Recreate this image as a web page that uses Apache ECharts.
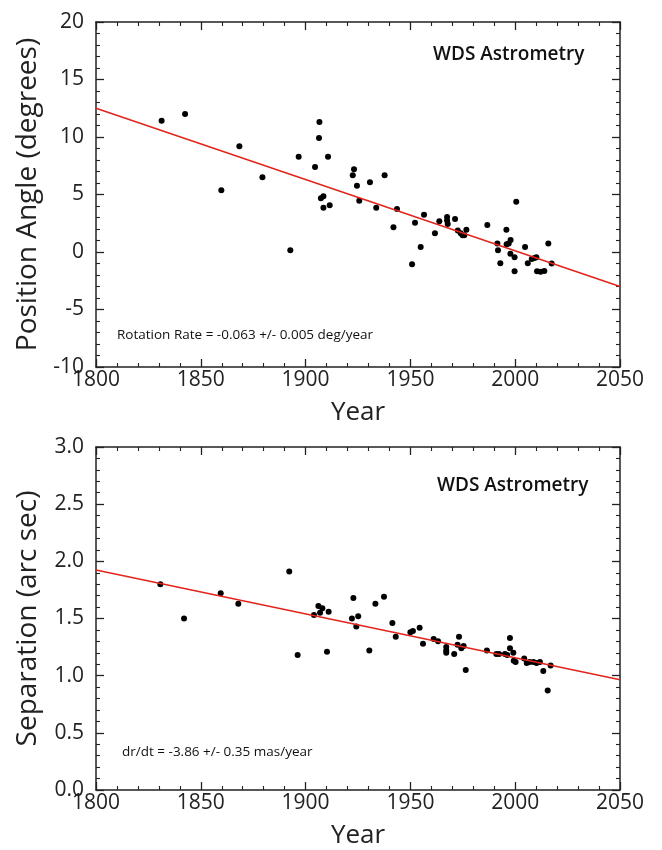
<!DOCTYPE html>
<html>
<head>
<meta charset="utf-8">
<script src="https://cdn.jsdelivr.net/npm/echarts@6/dist/echarts.min.js"></script>
<style>
html,body{margin:0;padding:0;background:#fff;}
#c{width:662px;height:850px;}
</style>
</head>
<body>
<div id="c"></div>
<script>
// ---- Data: Position Angle (top panel) ----
const paYears = [1831.3,1842.5,1868.4,1859.8,1879.4,1892.7,1896.7,1904.5,1906.6,1906.4,1910.7,1907.3,1908.5,1908.5,1911.5,1923.1,1922.5,1924.5,1925.6,1930.7,1933.7,1937.7,1941.9,1943.6,1950.8,1952.2,1954.9,1956.5,1961.7,1963.8,1967.5,1967.5,1967.8,1971.3,1972.6,1974.0,1974.9,1975.7,1976.7,1986.7,1991.5,1991.8,1992.9,1995.8,1995.9,1996.9,1997.8,1997.7,1999.7,1999.7,2000.5,2004.7,2006.0,2007.9,2009.2,2010.1,2010.4,2012.1,2013.9,2015.8,2017.4];
const paValues = [11.42,12.0,9.19,5.36,6.49,0.15,8.29,7.39,11.3,9.91,8.29,4.67,4.84,3.85,4.06,7.19,6.67,5.77,4.46,6.06,3.85,6.67,2.15,3.74,-1.07,2.55,0.43,3.25,1.62,2.67,3.04,2.75,2.43,2.87,1.88,1.62,1.45,1.45,1.94,2.35,0.75,0.15,-0.98,1.94,0.67,0.75,1.04,-0.15,-0.46,-1.68,4.37,0.43,-0.98,-0.61,-0.52,-0.46,-1.68,-1.71,-1.65,0.75,-1.01];
const paFitYears = [1800, 2050];
const paFitValues = [12.5, -3.0];

// ---- Data: Separation (bottom panel) ----
const sepYears = [1830.7,1842.0,1859.5,1867.9,1892.2,1896.2,1904.0,1906.1,1908.0,1906.9,1911.0,1910.2,1922.8,1922.1,1925.1,1924.2,1930.4,1933.3,1937.4,1941.4,1943.0,1950.0,1951.2,1954.4,1956.0,1961.1,1963.2,1967.1,1967.1,1967.1,1970.9,1972.5,1973.2,1974.3,1975.4,1976.4,1986.5,1991.0,1992.3,1995.1,1996.2,1997.5,1997.5,1999.1,1999.3,2000.2,2004.3,2005.5,2006.9,2008.7,2010.2,2011.8,2013.4,2015.5,2016.9];
const sepValues = [1.80,1.50,1.72,1.63,1.91,1.18,1.53,1.61,1.59,1.55,1.56,1.21,1.68,1.50,1.52,1.43,1.22,1.63,1.69,1.46,1.34,1.38,1.39,1.42,1.28,1.32,1.30,1.25,1.22,1.20,1.19,1.27,1.34,1.24,1.26,1.05,1.22,1.19,1.19,1.19,1.18,1.33,1.24,1.20,1.13,1.12,1.15,1.11,1.12,1.12,1.11,1.12,1.04,0.87,1.09];
const sepFitYears = [1800, 2050];
const sepFitValues = [1.925, 0.965];

// ---- Axis settings / labels ----
const xRange = [1800, 2050];
const paRange = [-10, 20];
const sepRange = [0.0, 3.0];
const paTitle = 'Position Angle (degrees)';
const sepTitle = 'Separation (arc sec)';
const xTitle = 'Year';
const legendText = 'WDS Astrometry';
const paNote = 'Rotation Rate = -0.063 +/- 0.005 deg/year';
const sepNote = 'dr/dt = -3.86 +/- 0.35 mas/year';

const FONT = 'Open Sans';
const pairs = (xs, ys) => xs.map((x, i) => [x, ys[i]]);

function axisBase(extra) {
  return Object.assign({
    type: 'value',
    axisLine: { show: true, onZero: false, lineStyle: { color: '#222', width: 1.5 } },
    axisTick: { show: true, inside: true, length: 8, lineStyle: { color: '#222', width: 1.3 } },
    minorTick: { show: true, splitNumber: 5, length: 4, lineStyle: { color: '#222', width: 1.1 } },
    splitLine: { show: false }
  }, extra);
}
function xAx(grid, pos, showLabel, withName) {
  const a = axisBase({ gridIndex: grid, position: pos, min: xRange[0], max: xRange[1], interval: 50 });
  a.axisLabel = showLabel
    ? { show: true, color: '#222', fontFamily: FONT, fontSize: 21, margin: 3, formatter: v => String(v) }
    : { show: false };
  if (withName) {
    a.name = xTitle; a.nameLocation = 'middle'; a.nameGap = 33;
    a.nameTextStyle = { color: '#222', fontFamily: FONT, fontSize: 26 };
  }
  return a;
}
function yAx(grid, pos, range, interval, showLabel, name, fmt) {
  const a = axisBase({ gridIndex: grid, position: pos, min: range[0], max: range[1], interval: interval });
  a.axisLabel = showLabel
    ? { show: true, color: '#222', fontFamily: FONT, fontSize: 21, margin: 12, formatter: fmt }
    : { show: false };
  if (name) {
    a.name = name; a.nameLocation = 'middle'; a.nameGap = 54;
    a.nameTextStyle = { color: '#222', fontFamily: FONT, fontSize: 28 };
  }
  return a;
}
function note(text, left, top, size, weight) {
  return { text: text, left: left, top: top, padding: 0,
    textStyle: { color: '#111', fontFamily: FONT, fontSize: size, fontWeight: weight } };
}

const chart = echarts.init(document.getElementById('c'));
chart.setOption({
  animation: false,
  title: [
    note(legendText, 433, 45, 19, 600),
    note(paNote, 117, 328, 13.5, 'normal'),
    note(legendText, 437, 476, 19, 600),
    note(sepNote, 122, 745, 13.5, 'normal')
  ],
  grid: [
    { left: 96, top: 22, width: 524, height: 345 },
    { left: 96, top: 447, width: 524, height: 346 }
  ],
  xAxis: [
    xAx(0, 'bottom', true, true),
    xAx(0, 'top', false, false),
    xAx(1, 'bottom', true, true),
    xAx(1, 'top', false, false)
  ],
  yAxis: [
    yAx(0, 'left', paRange, 5, true, paTitle, v => String(v)),
    yAx(0, 'right', paRange, 5, false, '', null),
    yAx(1, 'left', sepRange, 0.5, true, sepTitle, v => v.toFixed(1)),
    yAx(1, 'right', sepRange, 0.5, false, '', null)
  ],
  series: [
    { type: 'line', xAxisIndex: 0, yAxisIndex: 0, data: pairs(paFitYears, paFitValues), symbol: 'none',
      lineStyle: { color: '#e3241b', width: 1.5 }, silent: true },
    { type: 'scatter', xAxisIndex: 0, yAxisIndex: 0, data: pairs(paYears, paValues), symbolSize: 6,
      itemStyle: { color: '#000', opacity: 1 } },
    { type: 'line', xAxisIndex: 2, yAxisIndex: 2, data: pairs(sepFitYears, sepFitValues), symbol: 'none',
      lineStyle: { color: '#e3241b', width: 1.5 }, silent: true },
    { type: 'scatter', xAxisIndex: 2, yAxisIndex: 2, data: pairs(sepYears, sepValues), symbolSize: 6,
      itemStyle: { color: '#000', opacity: 1 } }
  ]
});
</script>
</body>
</html>
